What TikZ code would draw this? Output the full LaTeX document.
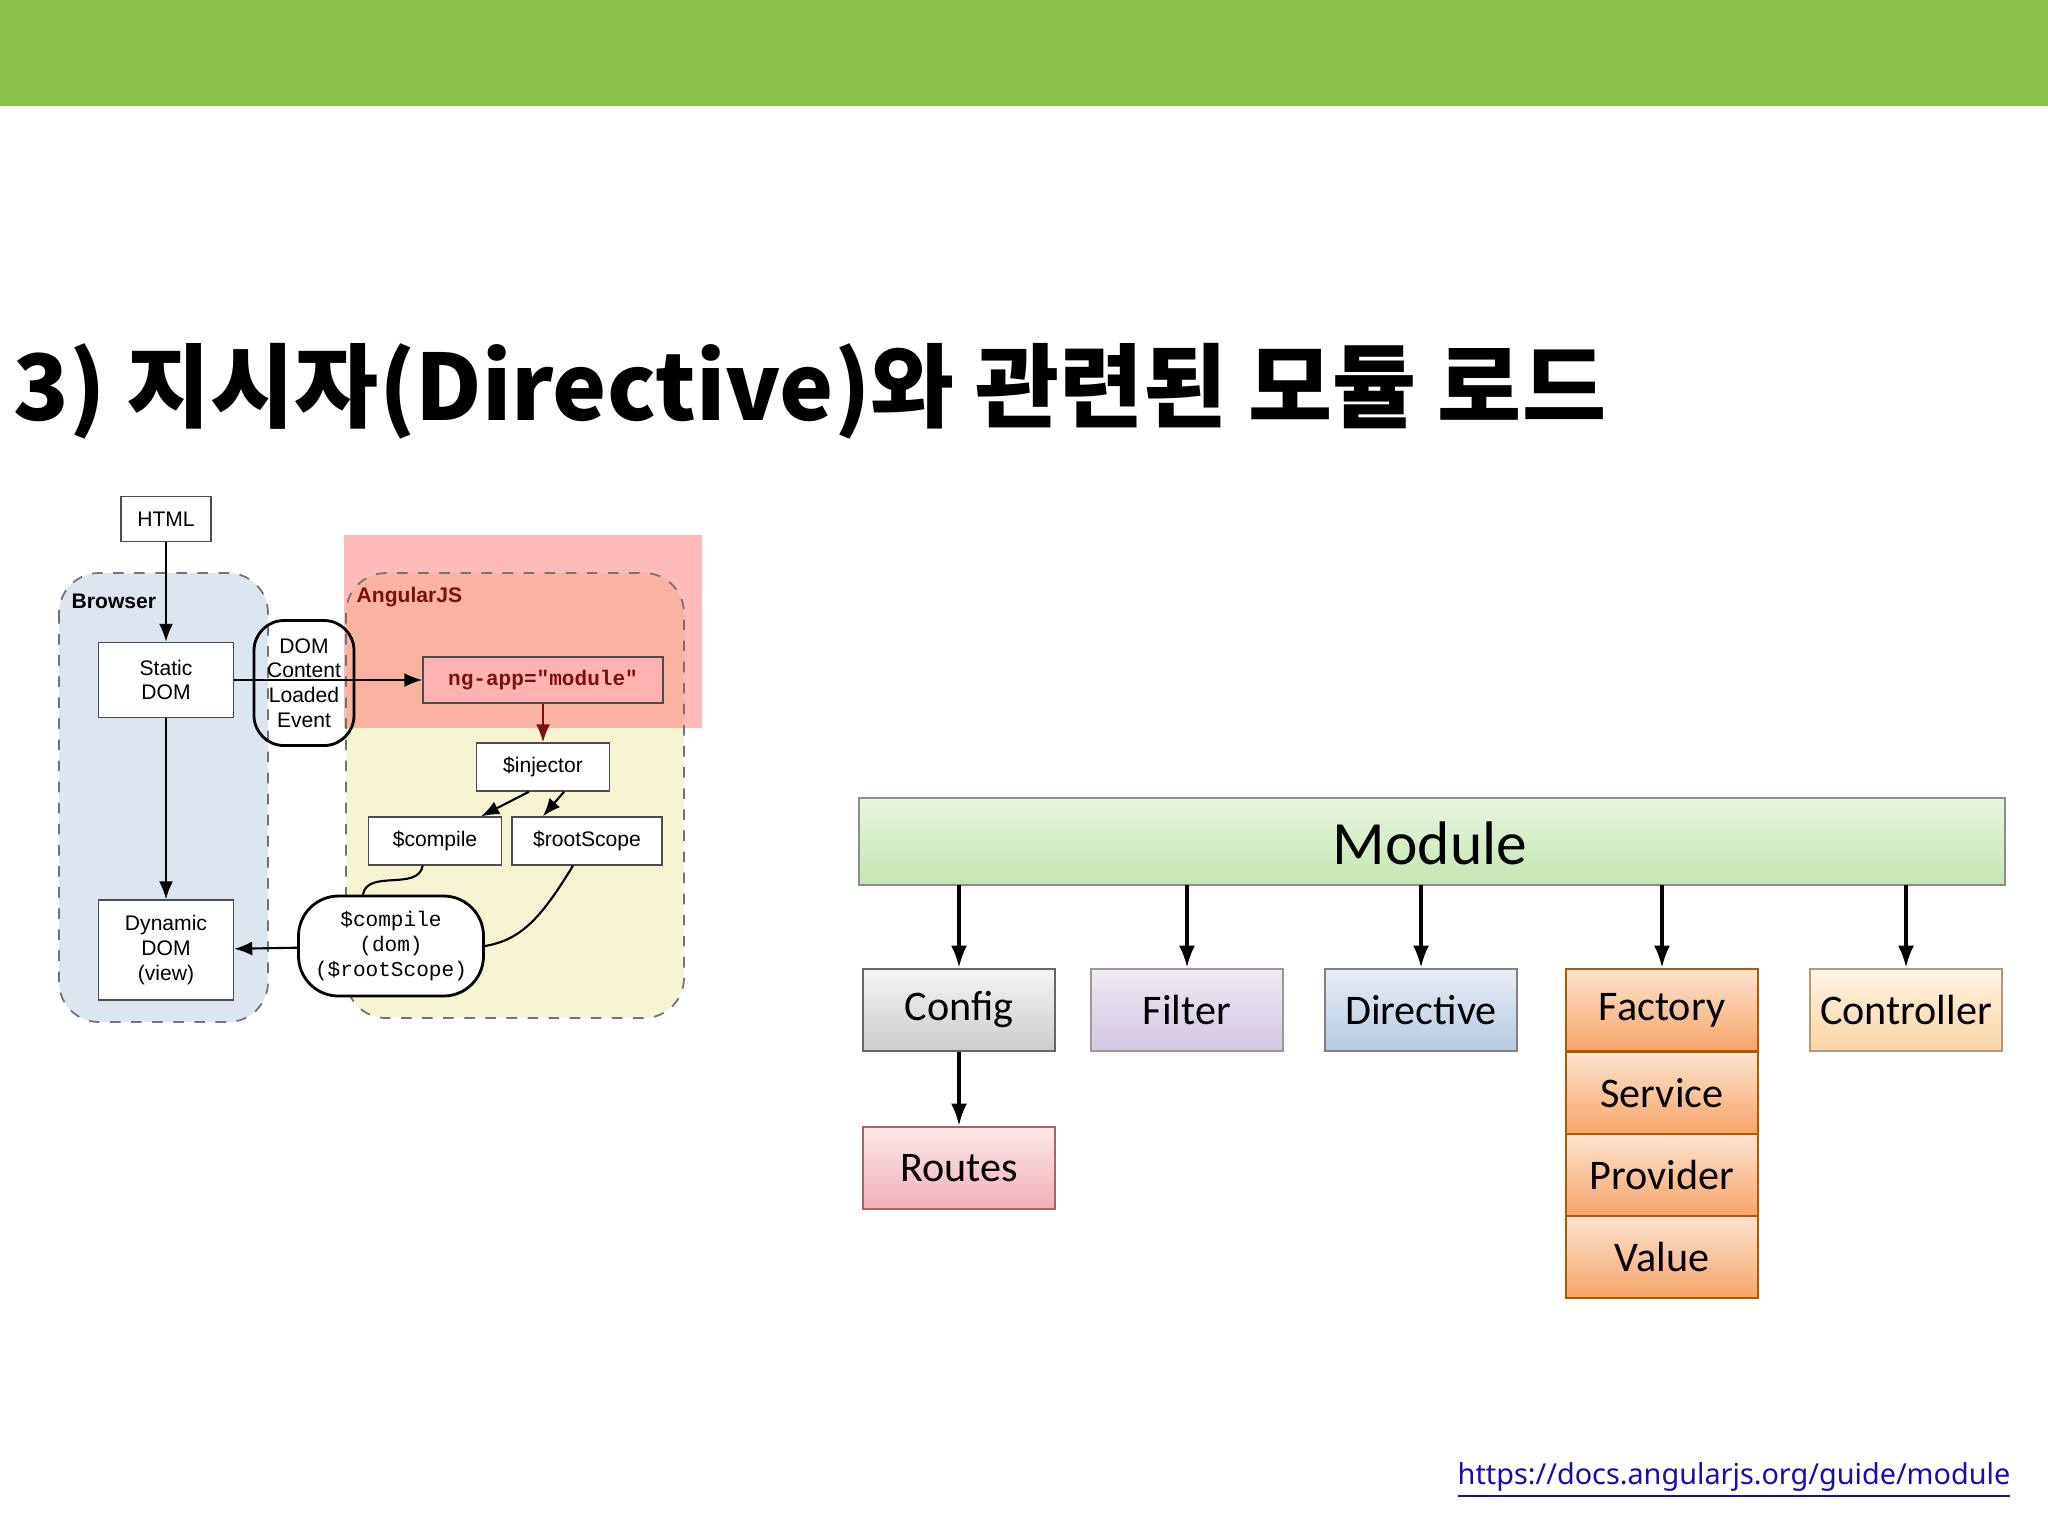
\documentclass[tikz,border=0pt]{standalone}
\usepackage{fontspec}
\setmainfont{Liberation Sans}
\newfontfamily\krfont{Noto Sans CJK KR}
\newfontfamily\carl{Carlito}
\newfontfamily\nsans{Noto Sans}
\newfontfamily\lmono{Liberation Mono}
\usetikzlibrary{arrows.meta}
\definecolor{topgreen}{HTML}{8BC34A}
\definecolor{brblue}{HTML}{DCE6F1}
\definecolor{angy}{HTML}{F6F4D2}
\definecolor{linkblue}{HTML}{1A0DAB}
\definecolor{ngred}{HTML}{7A1010}
\definecolor{gT}{HTML}{E8F6E0}\definecolor{gB}{HTML}{C4E6B2}
\definecolor{fT}{HTML}{F0EAF4}\definecolor{fB}{HTML}{D2C6E2}
\definecolor{dT}{HTML}{E8EEF6}\definecolor{dB}{HTML}{B6CAE2}
\definecolor{oT}{HTML}{FCE4D0}\definecolor{oB}{HTML}{F6A468}
\definecolor{cT}{HTML}{FFF3E2}\definecolor{cB}{HTML}{FBD5A6}
\definecolor{rT}{HTML}{FDE8EA}\definecolor{rB}{HTML}{F0B0B6}
\tikzset{
 sbox/.style={draw=black!70, fill=white, font=\fontsize{6}{7}\selectfont, align=center, inner sep=1pt},
 region/.style={draw=black!55, dashed, rounded corners=4mm, line width=0.5pt},
 arr/.style={-{Latex[length=1.8mm,width=1.4mm]}, line width=0.6pt},
 mbox/.style={draw=black!60, line width=0.8pt, font=\carl\fontsize{12}{14}\selectfont, minimum width=19.2mm, minimum height=8.2mm, inner sep=0pt},
 marr/.style={-{Latex[length=2.2mm,width=1.6mm]}, line width=0.9pt},
}
\begin{document}
\begin{tikzpicture}[x=0.1mm,y=-0.1mm]
\useasboundingbox (0,0) rectangle (2048,1536);
\fill[white] (0,0) rectangle (2048,1536);
\fill[topgreen] (0,0) rectangle (2048,106);
\node[anchor=base west, inner sep=0pt, font=\krfont\bfseries\fontsize{26}{30}\selectfont] (title) at (13,420) {3) 지시자(Directive)와 관련된 모듈 로드};

% left diagram regions
\draw[region, fill=brblue] (59,573) rectangle (268,1022);
\fill[angy, rounded corners=4mm] (346,573) rectangle (684,1018);
\fill[red!60, opacity=0.45] (344,535) rectangle (702,728);
\draw[region] (346,573) rectangle (684,1018);
\node[anchor=west, font=\bfseries\fontsize{6}{7}\selectfont, inner sep=0pt] (brl) at (71,601) {Browser};
\node[anchor=west, font=\bfseries\fontsize{6}{7}\selectfont, text=ngred, inner sep=0pt] (agl) at (356,597) {AngularJS};

\node[sbox, minimum width=9mm, minimum height=4.5mm] (html) at (166,519) {HTML};
\node[sbox, minimum width=13.5mm, minimum height=7.5mm] (sd) at (166,680) {Static\\DOM};
\node[sbox, minimum width=13.5mm, minimum height=10mm] (dd) at (166,950) {Dynamic\\DOM\\(view)};
\node[sbox, fill=red!30, minimum width=24mm, minimum height=4.6mm, font=\lmono\bfseries\fontsize{6}{7}\selectfont, text=ngred] (ng) at (543,680) {ng-app="module"};
\node[sbox, minimum width=13.3mm, minimum height=4.8mm] (inj) at (543,767) {\$injector};
\node[sbox, minimum width=13.3mm, minimum height=4.8mm] (cmp) at (435,841) {\$compile};
\node[sbox, minimum width=15mm, minimum height=4.8mm] (rs) at (587,841) {\$rootScope};

\draw[arr] (sd.east) -- (sd.east -| ng.west);
\node[sbox, rounded corners=3mm, line width=0.8pt, draw=black, minimum width=10mm, minimum height=12.5mm, inner sep=0.5pt, fill=none] (ev) at (304,683) {DOM\\Content\\Loaded\\Event};
\node[sbox, rounded corners=4mm, line width=0.8pt, draw=black, minimum width=18.5mm, minimum height=10mm, font=\lmono\fontsize{6}{7}\selectfont] (cd) at (391,946) {\$compile\\(dom)\\(\$rootScope)};

\draw[arr] (html) -- (sd);
\draw[arr] (sd) -- (dd);
\draw[arr, draw=ngred] (ng) -- (inj);
\draw[arr] ([xshift=-4pt]inj.south) -- ([xshift=-6pt]cmp.north east);
\draw[arr] ([xshift=6pt]inj.south) -- ([xshift=9pt]rs.north west);
\draw[line width=0.6pt] ([xshift=-3.5pt]cmp.south) to[out=-100,in=80] ([xshift=-8pt]cd.north);
\draw[line width=0.6pt] ([xshift=-4pt]rs.south) .. controls (540,920) and (520,940) .. (cd.east);
\draw[arr] (cd) -- (dd);

% right diagram
\shade[top color=gT, bottom color=gB, draw=black!45, line width=0.8pt] (859,798) rectangle (2005,885);
\node[font=\carl\fontsize{17.5}{20}\selectfont] (mod) at (1430,843) {Module};
\coordinate (mtop) at (0,885);

\node[mbox, top color=gray!8, bottom color=gray!40] (cfg) at (959,1010) {Config};
\node[mbox, top color=fT, bottom color=fB, draw=black!40] (flt) at (1187,1010) {Filter};
\node[mbox, top color=dT, bottom color=dB, draw=black!50] (dir) at (1421,1010) {Directive};
\node[mbox, top color=oT, bottom color=oB, draw=orange!70!black] (fac) at (1662,1010) {Factory};
\node[mbox, top color=oT, bottom color=oB, draw=orange!70!black] (svc) at (1662,1093) {Service};
\node[mbox, top color=oT, bottom color=oB, draw=orange!70!black] (prv) at (1662,1175) {Provider};
\node[mbox, top color=oT, bottom color=oB, draw=orange!70!black] (val) at (1662,1257) {Value};
\node[mbox, top color=cT, bottom color=cB, draw=orange!40!black!50] (ctl) at (1906,1010) {Controller};
\node[mbox, top color=rT, bottom color=rB, draw=red!40!black!60] (rts) at (959,1168) {Routes};

\draw[marr] (cfg.north |- mtop) -- (cfg.north);
\draw[marr] (flt.north |- mtop) -- (flt.north);
\draw[marr] (dir.north |- mtop) -- (dir.north);
\draw[marr] (fac.north |- mtop) -- (fac.north);
\draw[marr] (ctl.north |- mtop) -- (ctl.north);
\draw[marr] (cfg) -- (rts);

\node[anchor=base east, inner sep=0pt, font=\nsans\fontsize{8.2}{10}\selectfont, text=linkblue] (link) at (2011,1484) {\underline{https://docs.angularjs.org/guide/module}};
\end{tikzpicture}
\end{document}
